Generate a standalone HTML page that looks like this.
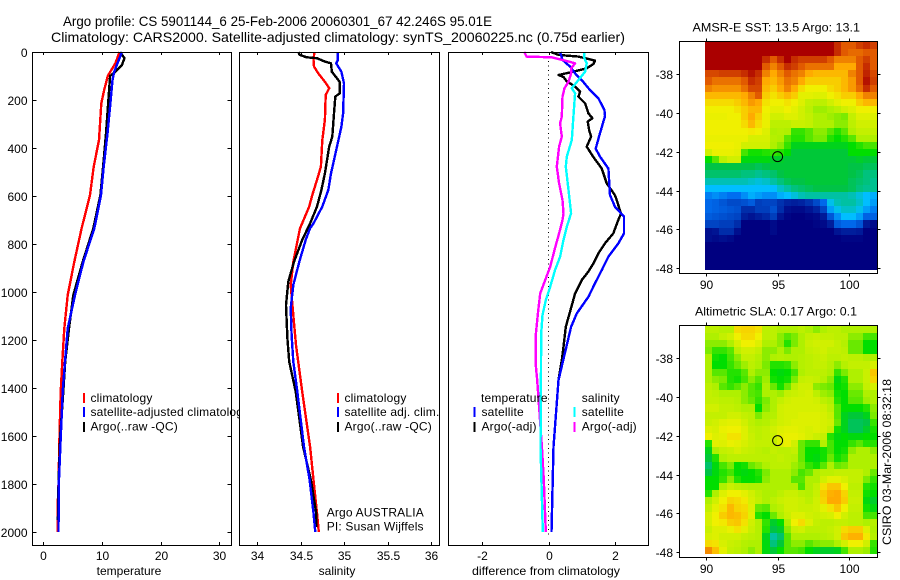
<!DOCTYPE html>
<html>
<head>
<meta charset="utf-8">
<title>Argo profile</title>
<style>
html,body{margin:0;padding:0;background:#fff;}
svg{display:block;font-family:"Liberation Sans",sans-serif;font-size:12px;fill:#000;}
</style>
</head>
<body>
<svg id="fig" xmlns="http://www.w3.org/2000/svg" width="900" height="580" viewBox="0 0 900 580">
<rect x="0" y="0" width="900" height="580" fill="#fff"/>
<text x="63" y="26" font-size="14" textLength="429" lengthAdjust="spacingAndGlyphs">Argo profile: CS 5901144_6 25-Feb-2006 20060301_67 42.246S 95.01E</text>
<text x="51" y="42" font-size="14" textLength="574" lengthAdjust="spacingAndGlyphs">Climatology: CARS2000. Satellite-adjusted climatology: synTS_20060225.nc (0.75d earlier)</text>
<g id="p1"></g>
<g id="p2"></g>
<g id="p3"></g>
<g id="p4"></g>
<g id="p5"></g>
<text x="129" y="575" text-anchor="middle">temperature</text>
<text x="337" y="575" text-anchor="middle">salinity</text>
<text x="546" y="575" text-anchor="middle" textLength="148" lengthAdjust="spacingAndGlyphs">difference from climatology</text>
<text x="692.5" y="31.5" textLength="167.5" lengthAdjust="spacingAndGlyphs">AMSR-E SST: 13.5 Argo: 13.1</text>
<text x="695" y="315.5" textLength="162" lengthAdjust="spacingAndGlyphs">Altimetric SLA: 0.17 Argo: 0.1</text>
<text transform="translate(891,545) rotate(-90)" textLength="166" lengthAdjust="spacingAndGlyphs">CSIRO 03-Mar-2006 08:32:18</text>
</svg>
<script>
// ---------- profile data ----------
const depthTicks = [0,200,400,600,800,1000,1200,1400,1600,1800,2000];
const tempTicks = [0,10,20,30];
const salTicks = [34,34.5,35,35.5,36];
const salTickLabels = ['34','34.5','35','35.5','36'];
const diffTicks = [-2,0,2];
const lonTicks = [90,95,100];
const latTicks = [-38,-40,-42,-44,-46,-48];

const tempClimDepth = [0,47,100,158,214,367,478,596,735,874,1013,1152,1290,1415,1600,1800,1900,2000];
const tempClimValues = [13.0,12.3,11.0,10.4,9.9,9.5,8.6,7.97,6.55,5.3,4.17,3.6,3.26,2.98,2.78,2.6,2.45,2.45];
const tempAdjDepth = [0,26,82,117,200,339,478,596,735,874,1013,1152,1290,1415,1600,1800,2000];
const tempAdjValues = [13.4,13.0,12.1,11.8,11.5,10.95,10.3,9.85,8.7,6.84,5.42,4.17,3.71,3.32,3.0,2.65,2.6];
const tempArgoDepth = [0,26,54,82,100,200,339,478,596,735,874,1013,1152,1290,1415,1600,1800,1950];
const tempArgoValues = [13.1,13.85,13.4,12.3,11.4,11.1,10.7,10.2,9.75,8.54,6.73,5.13,4.4,3.75,3.43,2.9,2.6,2.5];

const salClimDepth = [0,33,61,89,124,151,179,283,367,478,533,596,644,735,874,971,1068,1221,1415,1645,1783,1921,2000];
const salClimValues = [34.66,34.65,34.655,34.705,34.78,34.83,34.79,34.78,34.75,34.735,34.69,34.636,34.6,34.494,34.417,34.387,34.41,34.448,34.52,34.61,34.65,34.69,34.71];
const salAdjDepth = [0,33,47,82,131,256,311,394,506,575,644,714,735,783,874,971,1068,1179,1290,1415,1645,1783,1921,2000];
const salAdjValues = [34.93,34.93,34.91,34.97,35.0,34.99,34.97,34.92,34.85,34.82,34.75,34.65,34.609,34.56,34.486,34.417,34.387,34.398,34.417,34.463,34.54,34.605,34.65,34.67];
const salArgoDepth = [0,12,22,26,40,47,82,124,172,186,256,353,394,506,575,644,714,783,874,957,1054,1193,1290,1415,1645,1783,1921,1980];
const salArgoValues = [34.475,34.49,34.57,34.69,34.78,34.85,34.86,34.95,34.95,34.9,34.885,34.865,34.83,34.78,34.74,34.69,34.61,34.52,34.425,34.36,34.333,34.349,34.37,34.445,34.53,34.62,34.68,34.68];

const dtSatDepth = [0,33,61,89,117,151,193,242,267,353,403,436,486,596,645,686,756,798,853,909,964,1020,1089,1145,1367,1645,2000];
const dtSatValues = [0.35,0.42,0.65,0.8,1.0,1.2,1.5,1.68,1.7,1.52,1.42,1.55,1.8,1.85,2.0,2.27,2.27,2.1,1.8,1.6,1.4,1.2,0.85,0.68,0.3,0.15,0.09];
const dtArgoDepth = [0,12,19,26,36,50,68,82,96,104,122,144,165,186,214,256,276,290,325,353,394,438,485,547,597,617,673,700,756,797,839,881,915,950,1006,1056,1145,1228,1284,1367,1645,2000];
const dtArgoValues = [0.075,0.3,0.9,1.1,1.4,1.35,1.15,0.75,0.3,0.45,0.55,0.8,0.95,0.9,1.1,1.2,1.32,1.18,1.22,1.28,1.15,1.35,1.6,1.75,2.0,2.05,2.18,2.1,1.95,1.7,1.5,1.35,1.2,1.0,0.8,0.7,0.52,0.45,0.4,0.3,0.15,0.09];
const dsSatDepth = [0,26,47,82,117,151,172,269,367,436,478,575,672,728,783,853,908,978,1034,1096,1173,1645,2000];
const dsSatValues = [1.08,1.08,1.15,1.1,0.9,0.7,0.8,0.75,0.7,0.55,0.52,0.6,0.68,0.55,0.45,0.35,0.2,0.05,-0.08,-0.18,-0.22,-0.24,-0.17];
const dsArgoDepth = [0,19,22,36,47,68,89,124,151,186,269,297,353,394,478,547,617,672,700,756,825,895,950,1006,1089,1173,1311,1367,1645,1783,2000];
const dsArgoValues = [-0.73,-0.66,0.1,0.5,0.8,0.68,0.68,0.6,0.48,0.42,0.4,0.35,0.4,0.32,0.25,0.32,0.42,0.45,0.42,0.32,0.18,0.05,-0.1,-0.25,-0.32,-0.38,-0.38,-0.34,-0.2,-0.14,-0.08];

// ---------- map data (colour index 0 navy … 9 dark red) ----------
const sstGrid = [
[9,9,9,9,9,9,9,9,9,9,9,9,9,9,9,9,9,9,8.5,8,8,8.3,8.5,8.3],
[9,9,9,9,9,9,9,9,9,9,9,9,9,9,9,9,9,9,8.5,8,7.8,7.8,8,8],
[9,9,9,9,9,9,9,9,8.5,8,8.5,9,8.5,8.3,8.3,8.3,8.3,8,7.5,7.5,7.5,8,8.3,8],
[9,9,9,9,9,9,9,9,8,7.5,8,8.5,8.3,8,7.7,7.7,7.7,7.7,7,7,7,8,8.5,8],
[8.2,8.2,8.3,8.3,8.3,8.5,8.8,8.5,7.5,7,7.5,8,7.7,7.5,7,6.8,6.8,6.8,6.8,6.8,7.5,8,8.6,8.2],
[8,7.7,7.7,7.7,7.7,8,8.5,8.3,7,6.8,7.2,7.7,7.5,7,6.5,6.5,6.5,6.5,6.5,6.8,7.2,8,8.8,8.3],
[7.5,7.3,7.3,7.3,7.3,7.7,8.2,8.2,6.8,6.5,7,7.5,7,6.3,6,6,6,6.3,6.5,6.8,7.2,7.8,8.5,8],
[6.8,6.8,6.8,6.8,6.8,7,7.5,8,6.5,6.2,6.5,6.8,6.5,5.8,5.8,5.7,5.7,6,6.2,6.5,6.5,7,7.5,7.5],
[6.3,6.3,6.3,6.3,6.5,6.8,7.2,7,6.2,6,6,6.2,6,5.7,5.3,5.2,5.2,5.5,5.8,6,6,6.5,6.8,6.8],
[6,6,6,6,6.2,6.5,6.8,6.8,6,5.8,5.8,6,5.8,5.5,5.2,4.9,4.9,5,5.2,5.5,5.7,6,6,6],
[5.9,5.9,5.9,6,6,6.5,7,6.5,5.9,5.5,5.5,5.7,5.7,5.5,5.3,5,5,4.9,4.8,4.7,5.3,5.7,5.7,5.7],
[6,6,6,6,6,6.3,6.8,6.3,5.9,5.2,5.2,5.2,5.4,5.4,5.3,5,5,5,4.8,4.8,5.2,5.5,5.5,5.5],
[6,6,6,6,6,6,6.1,6,5.7,5,5.1,5,4.3,4.3,4.5,4.8,4.8,4.5,4.2,4.5,5,5.3,5.3,5.3],
[5.9,5.9,5.9,5.9,5.9,5.9,5.6,5.6,5.6,5.1,5,4.5,4.2,4.2,4.5,4.7,4.7,4.2,4,4.2,4.5,5,5,5],
[6,6,6,6,5.9,5.5,5.5,5.5,5.5,5,4.8,4.3,3.8,3.8,3.8,3.8,3.8,3.8,3.8,3.8,4,4.2,4.4,4.4],
[5.5,5.9,5.9,5.9,5.8,4.4,4.1,4.1,4.2,4.3,4.2,4,3.6,3.6,3.6,3.6,3.6,3.6,3.6,3.6,4,4,4,4],
[4,4.5,5.2,5.5,5.5,3.9,3.9,3.9,3.9,3.7,3.7,3.6,3.6,3.6,3.6,3.6,3.6,3.6,3.6,3.6,3.6,3.7,3.6,3.6],
[3.5,3.5,3.5,3.5,3.5,3.5,3.5,3.4,3.5,3.6,3.6,3.6,3.6,3.6,3.6,3.6,3.6,3.6,3.6,3.6,3.5,3.5,3.4,3.4],
[3.3,3.3,3.3,3.3,3.3,3.2,3.2,3.1,3.2,3.3,3.5,3.6,3.6,3.6,3.6,3.6,3.6,3.6,3.6,3.6,3.5,3.4,3.2,3.2],
[2.9,2.9,2.9,2.9,2.9,2.9,2.8,2.7,2.8,3,3.2,3.4,3.5,3.5,3.6,3.6,3.6,3.6,3.6,3.6,3.4,3.3,3.2,3.1],
[2.5,2.5,2.5,2.5,2.5,2.5,2.5,2.5,2.5,2.5,2.8,3,3.2,3.3,3.4,3.5,3.5,3.5,3.5,3.5,3.4,3.2,3.1,3.1],
[2.1,2.2,2.1,2,2,2.2,2.4,2.3,2.2,2.2,2.4,2.5,2.7,2.9,3,3,3,3,3,3,2.9,2.7,2.5,2.4],
[1.9,1.8,1.6,1.4,1.4,1.5,1.7,1.2,1.3,1.3,1,0.7,0.6,0.7,1,1.4,1.9,2.6,2.9,3,3,2.8,2.5,2.3],
[1.9,1.8,1.7,1.6,1.5,0.9,0.9,1.2,1.2,1.5,0.9,0.3,0.2,0.2,0.4,0.7,1.3,2.3,2.6,2.8,2.8,2.6,2.3,2.1],
[1.7,1.6,1.5,1.4,1.3,0.6,0.4,0.6,0.8,1.2,0.4,0.1,0,0,0.1,0.2,0.5,1.6,2.2,2.5,2.5,2.3,1.8,1.8],
[1.3,1.3,1.2,1.2,0.9,0,0,0,0,0.2,0,0,0,0,0,0.1,0.2,0.6,1.7,1.9,1.9,1.6,0.5,0.2],
[0.3,0.4,0.9,0.9,0.3,0,0,0,0,0.2,0,0,0,0,0,0,0,0,0.4,0.6,0.6,0.5,0,0],
[0.3,0.2,0.3,0.2,0,0,0,0,0,0,0,0,0,0,0,0,0,0,0,0.1,0.1,0.1,0,0],
[0,0,0,0,0,0,0,0,0,0,0,0,0,0,0,0,0,0,0,0,0,0,0,0],
[0,0,0,0,0,0,0,0,0,0,0,0,0,0,0,0,0,0,0,0,0,0,0,0],
[0,0,0,0,0,0,0,0,0,0,0,0,0,0,0,0,0,0,0,0,0,0,0,0],
[0,0,0,0,0,0,0,0,0,0,0,0,0,0,0,0,0,0,0,0,0,0,0,0]
];
const slaGrid = [
[5.2,5.2,5.1,5.1,6.3,6.4,6.4,6.2,5.2,5.2,5,5,5,5.2,5,4.8,5,5.2,5.2,5,5,5,5,5],
[5,5,5.3,5.5,6,6.3,6.3,6,5.2,5.2,4.8,4.5,4.7,5,5.3,5.4,5.3,5.3,5.2,5.2,4.8,4.8,4.4,4.4],
[4.8,4.8,4.8,5,5.6,6,6,5.7,5,5,4.8,4.2,4.7,5,5.4,5.5,5.5,5.5,5.3,5.1,4.6,4.6,4,4],
[4.7,4.3,4.3,4.5,5.2,5.5,5.5,5.3,4.8,4.8,5,4.7,5,5,5.3,5.4,5.5,5.3,5.3,5.2,4.6,4.6,4,4],
[5,4.1,4,4.4,4.8,5.3,5.3,5.1,4.8,5,5.1,5,5,5.1,5.2,5.3,5.4,5.2,5.2,5.3,5.2,5.2,5,5],
[5,4,4,4.3,4.6,4.9,5.2,5,4.7,4.2,4.2,4.3,4.8,5.1,5.2,5.3,5.3,5.1,4.8,5.1,5.3,5.3,5.3,5.6],
[5,4.5,4.5,4.2,4.2,4.5,5,4.8,4.8,4,3.9,4,4.4,5,5.2,5.2,5.2,5,4.3,4.7,5,5,5.4,6.6],
[5,4.8,4.7,4.2,4.1,4.4,4.8,4.5,4.9,4.1,4,4.1,4.7,5.3,5.4,5.3,5.1,4.8,3.9,4.2,5,5,5.4,6.4],
[5.2,5,4.5,4.3,4.5,4.8,4.5,4.3,5,4.6,4.1,4.6,5.2,5.5,5.5,4.8,4.7,4.6,4,4.1,4.8,4.8,5.3,5.6],
[5.3,5.2,5,5,5,4.8,4.5,4.4,5,5,4.9,5.3,5.4,5.5,5.6,5.2,4.9,4.8,4.1,4,4.6,4.6,5,5],
[5.3,5.3,5.2,5.2,5.1,4.8,4.6,4.3,4.7,5,5.3,5.5,5.6,5.6,5.6,5.5,5.2,5,4.2,4,4.5,4.5,4.9,5],
[5.5,5.5,5.3,5.3,5.2,5,5,4,4.8,5,5.5,5.6,5.6,5.6,5.6,5.6,5.5,5.2,4.5,4,4,4,4.2,4.8],
[5.3,5.3,5.3,5.5,5.5,5.3,5.2,4.7,5,5.1,5.5,5.6,5.6,5.7,5.7,5.7,5.6,5.4,4.5,3.8,3.6,3.6,3.8,4.7],
[5.4,5.5,5.7,5.8,5.8,5.5,5.2,5,5.1,5.3,5.5,5.6,5.7,5.7,5.7,5.7,5.6,5.5,4.6,3.8,3.4,3.4,3.5,4.3],
[5.7,5.6,5.9,6,6,5.7,5.3,5.2,5.3,5.5,5.7,5.8,5.8,5.7,5.6,5.7,5.6,5.3,4.1,3.8,3.4,3.4,3.7,4.1],
[6,5.7,5.8,6.2,6.2,5.7,5.4,5.2,5.3,5.4,5.8,5.9,5.9,5.8,5.6,5.4,5.3,4.2,3.9,4,3.9,3.9,4,4],
[4.2,5.8,5.7,5.9,5.8,5.6,5.4,5.3,5.3,5.3,5.7,5.9,5.5,4.6,4.3,4.3,5.1,4.4,4,4,4.3,4.5,4.2,4.2],
[3.8,5,5.3,5.4,5.6,5.4,5.3,5.2,5.1,5.3,5.2,5.2,5.3,4.6,4,4,4.1,4.4,4,4.1,4.8,5,5,4.8],
[3.6,4.2,5,5.2,5.2,5.2,5.2,5.2,5.2,5.2,5.3,5.2,5.1,4.6,4,3.9,4.1,4.6,4.1,4.3,5,5,5,5],
[3.3,3.9,4.4,4.7,4,4.1,4.6,4.8,5,5.2,5.2,5.2,4.9,4.7,4.3,4.1,4.5,5,4.6,4.7,5,5,5,5],
[3.5,3.9,4.2,4.4,4,3.9,4,4.2,4.7,5,5,5,4.8,4.4,4.6,5,5.2,5.2,5.3,5.3,5.3,5.3,5,4.6],
[4,4,4.3,4.8,4.2,4,4,4.1,4.8,5,5,5,4.5,4.5,5,5,5.5,5.8,5.8,5.6,5.3,5.3,4.7,4.3],
[4,4,5,5.4,5.2,5.1,5,5,5,5,5,5,5,4.4,5,5.3,6.2,6.6,6.6,6,5.2,5.2,4.2,4.1],
[4.2,5,5.7,6,6,5.8,5.5,5.2,5,5,5.2,5.4,5.4,5.2,5.1,5.4,6.5,6.9,7,6.4,5.3,5.3,4.1,4],
[5,5.5,6,6.4,6.3,6.1,5.6,5.3,5,5.2,5.4,5.5,5.5,5.4,5.2,5.5,6.4,7,7,6.5,5.4,5.4,3.9,3.7],
[5.3,5.8,6.2,6.8,6.4,6.3,5.7,4.6,4.5,5,5.2,5.5,5.5,5.4,5.4,5.5,5.8,6.2,6.6,6,5.3,5.3,4.1,3.9],
[5.6,6,6.5,6.8,6.7,6.4,5.8,4.2,4,4.6,5,5.4,5.7,5.7,5.5,5.4,5.5,5.6,6,5.5,5.2,5.2,4.4,4.4],
[5.6,6,6.1,6.5,6.6,6.2,5.5,5.1,4.3,3.7,4,5,6,6.3,5.7,5.3,5.2,5.2,5.3,5.3,5.2,5.2,5,5.1],
[5.4,5.7,5.7,5.9,6.2,5.8,5.4,5.1,4.2,3.5,3.7,4.8,5.4,5.5,5.2,5.2,5.2,5.3,5.5,6.3,6.5,6.5,5.7,5],
[5.6,5.7,5.5,5.5,5.5,5.3,5.2,5.1,3.8,3,3.3,4.5,5,5,5,5,5.1,5.2,5.5,6.6,6.9,6.9,6.1,5.1],
[6.3,6.2,5.6,5.4,5.3,5.1,5,5,3.9,3.2,3.6,4.5,4.8,4.8,4.5,4.7,4.8,4.8,5,5.5,6,6,5.5,4.3],
[7.4,6.7,5.8,5.3,5.2,5,4.8,5,3.9,3.6,4,4.5,4.5,4.4,4,3.8,3.7,3.7,3.8,4.4,5,5,4.9,4.2]
];
const floatLon = [95];
const floatLat = [-42.25];

// ---------- axes ----------
const NS = 'http://www.w3.org/2000/svg';
const yDepth = d => 52 + d * 0.24;
const xTemp = v => 43.2 + v * 5.87;
const xSal = v => 257 + (v - 34) * 87;
const xDiff = v => 548.5 + v * 33.25;
const xLon = v => 706 + (v - 90) * 14.32;
const latPx = (v, origin) => origin + (-38 - v) * 19.37;
const sstLat38 = 74.3;
const slaLat38 = 358.3;
const palette = [[0,0,128],[0,50,175],[0,110,240],[0,190,255],[0,195,70],[0,222,0],[175,240,0],[240,240,0],[255,170,0],[225,90,0],[170,0,0]];
const paletteStops = [0,1,2,2.5,3.5,4,5,6,7,8,9];

function colorFor(v){
  let i = 0;
  while (i < paletteStops.length - 2 && v > paletteStops[i + 1]) i++;
  const f = Math.max(0, Math.min(1, (v - paletteStops[i]) / (paletteStops[i + 1] - paletteStops[i])));
  const c = palette[i].map((a, k) => Math.round(a + (palette[i + 1][k] - a) * f));
  return 'rgb(' + c.join(',') + ')';
}
function make(tag, parent, attrs){
  const el = document.createElementNS(NS, tag);
  for (const k in attrs) el.setAttribute(k, attrs[k]);
  parent.appendChild(el);
  return el;
}
function frame(g, x0, y0, x1, y1){
  const r = make('rect', g, {x:x0, y:y0, width:x1 - x0, height:y1 - y0, fill:'none', stroke:'#000', 'stroke-width':1, 'shape-rendering':'crispEdges'});
  
  
}
function panelBg(g, x0, y0, x1, y1){
  const r = make('rect', g, {x:x0, y:y0, width:x1 - x0, height:y1 - y0, fill:'#fff'});
  
  
}
function tick(g, x1, y1, x2, y2){
  const l = make('line', g, {x1:x1, y1:y1, x2:x2, y2:y2, stroke:'#000', 'stroke-width':1, 'shape-rendering':'crispEdges'});
  
  
}
function label(g, x, y, s, anchor){
  const t = make('text', g, {x:x, y:y, 'text-anchor':anchor || 'middle'});
  t.textContent = s;
  
  
}
function series(g, xs, ys, xScale, color, name){
  const pts = xs.map((v, i) => xScale(v).toFixed(1) + ',' + yDepth(ys[i]).toFixed(1)).join(' ');
  const p = make('polyline', g, {points:pts, fill:'none', stroke:color, 'stroke-width':2.4, 'shape-rendering':'crispEdges', 'stroke-linejoin':'round'});
  
  
}
function legendBar(g, x, y, color){
  const r = make('rect', g, {x:x, y:y, width:2, height:10, fill:color});
  
  
}
function legendText(g, x, y, s){
  const t = make('text', g, {x:x, y:y, 'letter-spacing':'0.18'});
  t.textContent = s;
  
  
}
function profileAxes(g, x0, x1, xTicks, xScale, labels){
  const top = 52, bot = 545;
  xTicks.forEach((v, i) => {
    const x = Math.round(xScale(v)) + 0.5;
    tick(g, x, top, x, top + 3);
    tick(g, x, bot, x, bot - 3);
    label(g, x, 560, labels ? labels[i] : String(v));
  });
}

// temperature panel
const p1 = document.getElementById('p1');
series(p1, tempClimValues, tempClimDepth, xTemp, '#ff0000', 'temperature-climatology-line');
series(p1, tempArgoValues, tempArgoDepth, xTemp, '#000000', 'temperature-argo-line');
series(p1, tempAdjValues, tempAdjDepth, xTemp, '#0000ff', 'temperature-satellite-adjusted-line');
legendBar(p1, 83, 393, '#ff0000');
legendBar(p1, 83, 407, '#0000ff');
legendBar(p1, 83, 422, '#000000');
legendText(p1, 90.5, 402, 'climatology');
legendText(p1, 90.5, 416, 'satellite-adjusted climatology');
legendText(p1, 90.5, 430.5, 'Argo(..raw -QC)');
frame(p1, 32.5, 52.5, 231.5, 545.5);
profileAxes(p1, 32.5, 231.5, tempTicks, xTemp);
depthTicks.forEach(d => {
  const y = Math.round(yDepth(d)) + 0.5;
  tick(p1, 32.5, y, 36.5, y);
  tick(p1, 231.5, y, 227.5, y);
  label(p1, 27.5, y + 4.5, String(d), 'end');
});

// salinity panel
const p2 = document.getElementById('p2');
panelBg(p2, 239.5, 52.5, 439.5, 545.5);
series(p2, salClimValues, salClimDepth, xSal, '#ff0000', 'salinity-climatology-line');
series(p2, salArgoValues, salArgoDepth, xSal, '#000000', 'salinity-argo-line');
series(p2, salAdjValues, salAdjDepth, xSal, '#0000ff', 'salinity-satellite-adjusted-line');
legendBar(p2, 337, 393, '#ff0000');
legendBar(p2, 337, 407, '#0000ff');
legendBar(p2, 337, 422, '#000000');
legendText(p2, 344.5, 402, 'climatology');
legendText(p2, 344.5, 416, 'satellite adj. clim.');
legendText(p2, 344.5, 430.5, 'Argo(..raw -QC)');
legendText(p2, 326.7, 516.7, 'Argo AUSTRALIA');
legendText(p2, 326.7, 530.7, 'PI: Susan Wijffels');
frame(p2, 239.5, 52.5, 439.5, 545.5);
profileAxes(p2, 239.5, 439.5, salTicks, xSal, salTickLabels);

// difference panel
const p3 = document.getElementById('p3');
panelBg(p3, 448.5, 52.5, 648.5, 545.5);
const zero = make('line', p3, {x1:xDiff(0), y1:52, x2:xDiff(0), y2:yDepth(2020), stroke:'#000', 'stroke-width':1, 'stroke-dasharray':'1 3.5', 'shape-rendering':'crispEdges'});


series(p3, dtArgoValues, dtArgoDepth, xDiff, '#000000', 'temperature-diff-argo-line');
series(p3, dtSatValues, dtSatDepth, xDiff, '#0000ff', 'temperature-diff-satellite-line');
series(p3, dsArgoValues, dsArgoDepth, xDiff, '#ff00ff', 'salinity-diff-argo-line');
series(p3, dsSatValues, dsSatDepth, xDiff, '#00ffff', 'salinity-diff-satellite-line');
legendText(p3, 481, 402, 'temperature');
legendText(p3, 581.7, 402, 'salinity');
legendBar(p3, 473.5, 407, '#0000ff');
legendBar(p3, 473.5, 422, '#000000');
legendBar(p3, 573.5, 407, '#00ffff');
legendBar(p3, 573.5, 422, '#ff00ff');
legendText(p3, 481.5, 416, 'satellite');
legendText(p3, 481.5, 430.5, 'Argo(-adj)');
legendText(p3, 581.7, 416, 'satellite');
legendText(p3, 581.7, 430.5, 'Argo(-adj)');
frame(p3, 448.5, 52.5, 648.5, 545.5);
profileAxes(p3, 448.5, 648.5, diffTicks, xDiff);

// maps
function drawMap(g, grid, lat38, top, bottom, xLabelY, cellName){
  const lonStep = 0.5;
  const latStep = 0.369;
  const lon0 = 89.94;
  const lat0 = -36.32;
  grid.forEach((row, j) => {
    row.forEach((v, i) => {
      const x0 = Math.round(xLon(lon0 + i * lonStep));
      const x1 = Math.round(xLon(lon0 + (i + 1) * lonStep));
      const y0 = Math.round(latPx(lat0 - j * latStep, lat38));
      const y1 = Math.round(latPx(lat0 - (j + 1) * latStep, lat38));
      const c = make('rect', g, {x:x0, y:y0, width:x1 - x0, height:y1 - y0, fill:colorFor(v), 'shape-rendering':'crispEdges'});
      
      
    });
  });
  frame(g, 679.5, top, 877.5, bottom);
  lonTicks.forEach(v => {
    const x = Math.round(xLon(v)) + 0.5;
    tick(g, x, top, x, top - 3);
    tick(g, x, bottom, x, bottom + 3);
    label(g, x, xLabelY, String(v));
  });
  latTicks.forEach(v => {
    const y = Math.round(latPx(v, lat38)) + 0.5;
    tick(g, 679.5, y, 676.5, y);
    tick(g, 877.5, y, 880.5, y);
    label(g, 673, y + 4.5, String(v), 'end');
  });
  const m = make('circle', g, {cx:xLon(floatLon[0]), cy:latPx(floatLat[0], lat38), r:5, fill:'none', stroke:'#000', 'stroke-width':1});
  
  
}
drawMap(document.getElementById('p4'), sstGrid, sstLat38, 41.5, 273.5, 289, 'sst-cell');
drawMap(document.getElementById('p5'), slaGrid, slaLat38, 325.5, 557.5, 573, 'sla-cell');
</script>
</body>
</html>
